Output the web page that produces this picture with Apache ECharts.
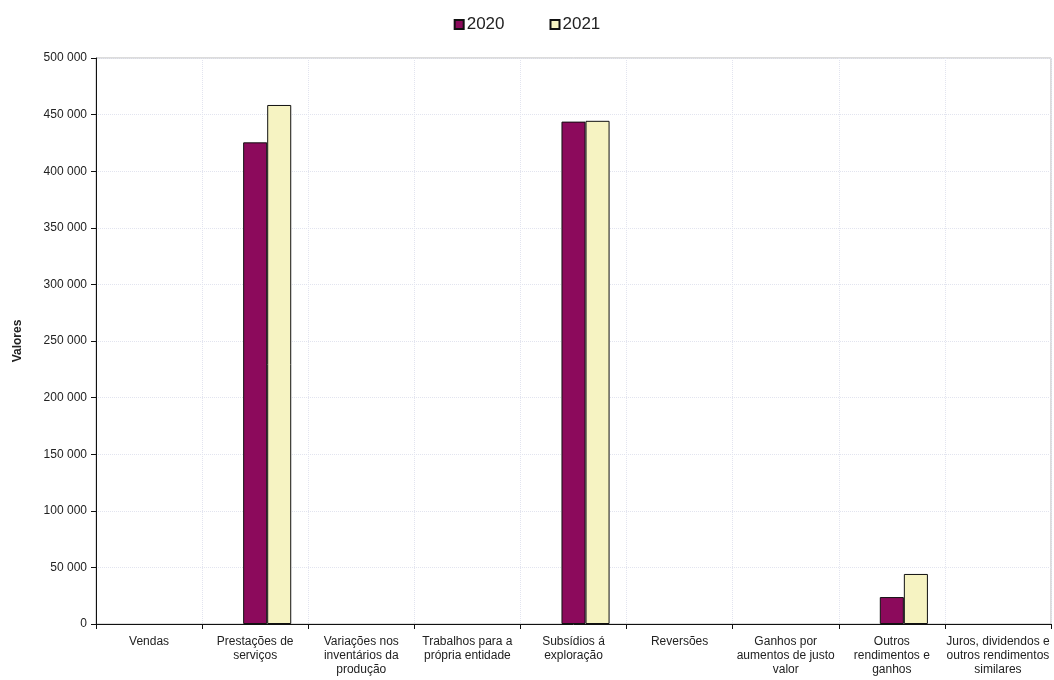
<!DOCTYPE html>
<html>
<head>
<meta charset="utf-8">
<script src="https://cdn.jsdelivr.net/npm/echarts@6/dist/echarts.min.js"></script>
<style>html,body{margin:0;padding:0;background:#fff}#c{width:1054px;height:680px}</style>
</head>
<body>
<div id="c"></div>
<script>
const categories = [
  "Vendas",
  "Prestações de\nserviços",
  "Variações nos\ninventários da\nprodução",
  "Trabalhos para a\nprópria entidade",
  "Subsídios á\nexploração",
  "Reversões",
  "Ganhos por\naumentos de justo\nvalor",
  "Outros\nrendimentos e\nganhos",
  "Juros, dividendos e\noutros rendimentos\nsimilares"
];
const emptySlot = [null, null, null, null, null, null, null, null, null];
const values2020 = [null, 425500, null, null, 443800, null, null, 23800, null];
const values2021 = [null, 458500, null, null, 444500, null, null, 44200, null];
const yTicks = [0, 50000, 100000, 150000, 200000, 250000, 300000, 350000, 400000, 450000, 500000];

const chart = echarts.init(document.getElementById('c'));
const font = 'Liberation Sans, Arial, sans-serif';
chart.setOption({
  animation: false,
  backgroundColor: '#ffffff',
  textStyle: { fontFamily: font },
  legend: {
    data: ['2020', '2021'],
    top: 11,
    left: 'center',
    itemWidth: 9,
    itemHeight: 9,
    itemGap: 45,
    icon: 'rect',
    textStyle: { fontSize: 17, color: '#222', fontFamily: font, padding: [0, 0, 0, -2] }
  },
  grid: {
    left: 96, right: 3, top: 58, bottom: 56,
    show: true, borderColor: '#b8b8b8', borderWidth: 1
  },
  xAxis: {
    type: 'category',
    data: categories,
    axisLine: { lineStyle: { color: '#111', width: 1 } },
    axisTick: { show: true, length: 5, lineStyle: { color: '#111' } },
    axisLabel: { fontSize: 12, color: '#222', lineHeight: 14, margin: 11, interval: 0, fontFamily: font },
    splitLine: { show: true, lineStyle: { color: '#e2e4ef', type: 'dotted' } }
  },
  yAxis: {
    type: 'value',
    min: yTicks[0],
    max: yTicks[yTicks.length - 1],
    interval: 50000,
    name: 'Valores',
    nameLocation: 'middle',
    nameGap: 72,
    nameTextStyle: { fontSize: 12, fontWeight: 'bold', color: '#222', fontFamily: font },
    axisLine: { show: true, lineStyle: { color: '#111', width: 1 } },
    axisTick: { show: true, length: 5, lineStyle: { color: '#111' } },
    axisLabel: {
      fontSize: 12, color: '#222', margin: 9, fontFamily: font,
      formatter: v => String(v).replace(/\B(?=(\d{3})+(?!\d))/g, ' ')
    },
    splitLine: { show: true, lineStyle: { color: '#e2e4ef', type: 'dotted' } }
  },
  series: [
    { name: '', type: 'bar', data: emptySlot, barGap: '0%', barCategoryGap: '32%' },
    { name: '2020', type: 'bar', data: values2020, barGap: '0%', barCategoryGap: '32%',
      itemStyle: { color: '#8c0a5c', borderColor: '#111', borderWidth: 1 } },
    { name: '2021', type: 'bar', data: values2021, barGap: '0%', barCategoryGap: '32%',
      itemStyle: { color: '#f6f3c2', borderColor: '#111', borderWidth: 1 } }
  ]
});
</script>
</body>
</html>
